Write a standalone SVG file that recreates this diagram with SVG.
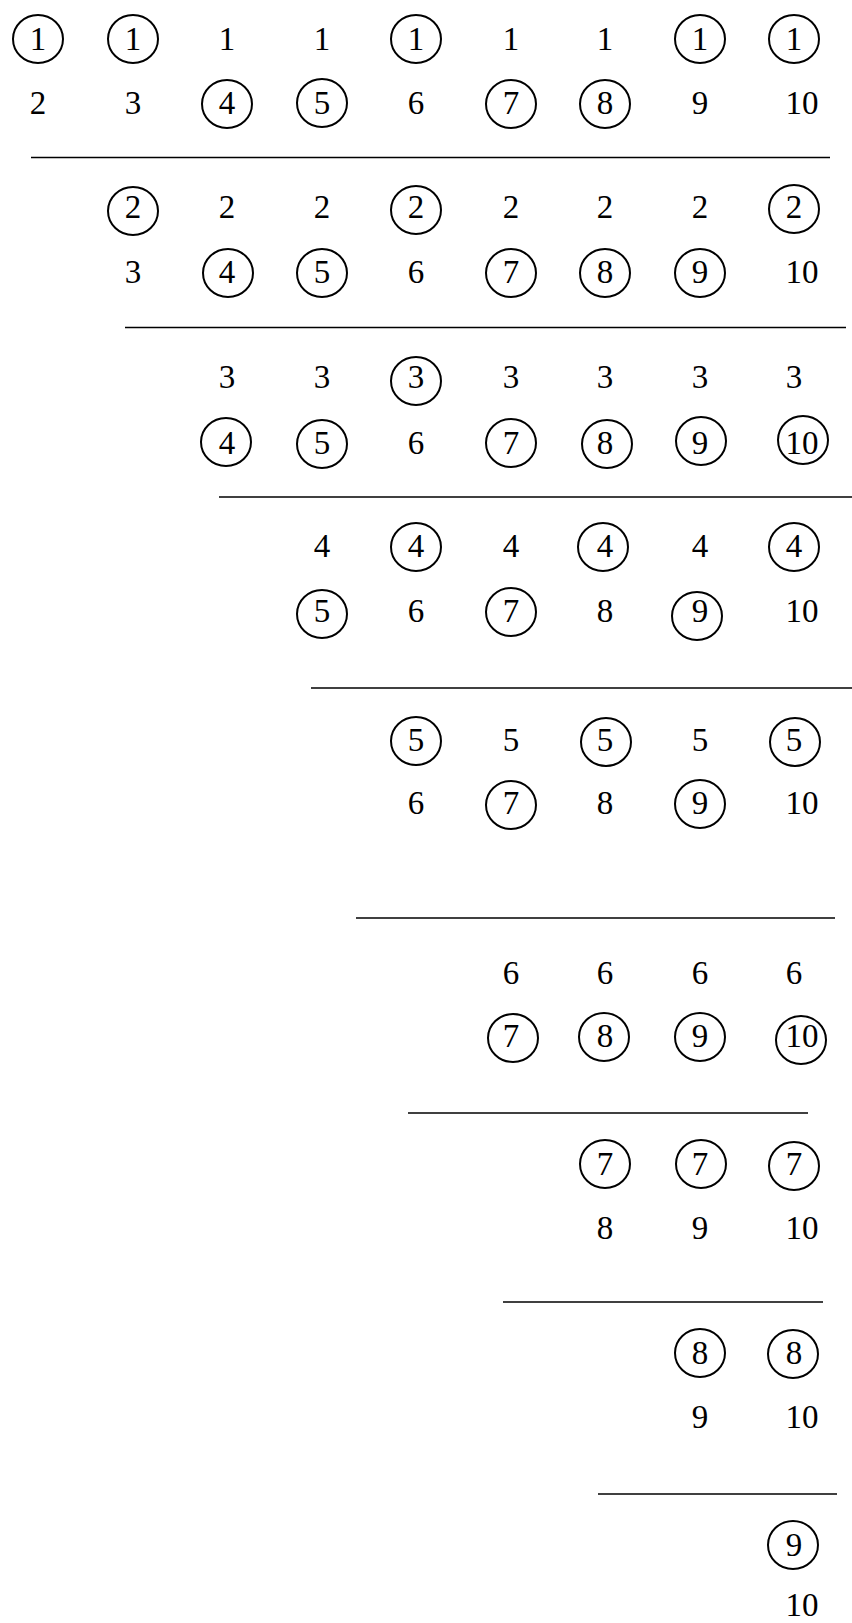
<svg xmlns="http://www.w3.org/2000/svg" width="852" height="1623" viewBox="0 0 852 1623">
<style>
.t{font-family:'Liberation Serif','Times New Roman','DejaVu Serif',serif;font-size:33px;fill:#000;text-anchor:middle}
.c{fill:none;stroke:#000;stroke-width:2}
.r{stroke:#000;stroke-width:1.7}
</style>
<rect width="852" height="1623" fill="#fff"/>
<g id="rules">
<line class="r" x1="31" y1="157.5" x2="830" y2="157.5"/>
<line class="r" x1="125" y1="327.5" x2="846" y2="327.5"/>
<line class="r" x1="219" y1="497" x2="852" y2="497"/>
<line class="r" x1="311" y1="688" x2="852" y2="688"/>
<line class="r" x1="356" y1="918" x2="835" y2="918"/>
<line class="r" x1="408" y1="1113" x2="808" y2="1113"/>
<line class="r" x1="503" y1="1302" x2="823" y2="1302"/>
<line class="r" x1="598" y1="1494" x2="837" y2="1494"/>
</g>
<g font-family="Liberation Serif, Times New Roman, serif">
<!-- Block 1 -->
<g id="b1a1"><ellipse class="c" cx="38" cy="39" rx="25" ry="24"/><text class="t" x="38" y="50">1</text></g>
<g id="b1a2"><ellipse class="c" cx="133" cy="39" rx="25" ry="24"/><text class="t" x="133" y="50">1</text></g>
<g id="b1a3"><text class="t" x="227" y="50">1</text></g>
<g id="b1a4"><text class="t" x="322" y="50">1</text></g>
<g id="b1a5"><ellipse class="c" cx="416" cy="39" rx="25" ry="24"/><text class="t" x="416" y="50">1</text></g>
<g id="b1a6"><text class="t" x="511" y="50">1</text></g>
<g id="b1a7"><text class="t" x="605" y="50">1</text></g>
<g id="b1a8"><ellipse class="c" cx="700" cy="39" rx="25" ry="24"/><text class="t" x="700" y="50">1</text></g>
<g id="b1a9"><ellipse class="c" cx="794" cy="39" rx="25" ry="24"/><text class="t" x="794" y="50">1</text></g>
<g id="b1b1"><text class="t" x="38" y="114">2</text></g>
<g id="b1b2"><text class="t" x="133" y="114">3</text></g>
<g id="b1b3"><ellipse class="c" cx="227" cy="104" rx="25" ry="24"/><text class="t" x="227" y="114">4</text></g>
<g id="b1b4"><ellipse class="c" cx="322" cy="103" rx="25" ry="24"/><text class="t" x="322" y="114">5</text></g>
<g id="b1b5"><text class="t" x="416" y="114">6</text></g>
<g id="b1b6"><ellipse class="c" cx="511" cy="104" rx="25" ry="24"/><text class="t" x="511" y="114">7</text></g>
<g id="b1b7"><ellipse class="c" cx="605" cy="104" rx="25" ry="24"/><text class="t" x="605" y="114">8</text></g>
<g id="b1b8"><text class="t" x="700" y="114">9</text></g>
<g id="b1b9"><text class="t" x="802" y="114">10</text></g>
<!-- Block 2 -->
<g id="b2a2"><ellipse class="c" cx="133" cy="211" rx="25" ry="24"/><text class="t" x="133" y="218">2</text></g>
<g id="b2a3"><text class="t" x="227" y="218">2</text></g>
<g id="b2a4"><text class="t" x="322" y="218">2</text></g>
<g id="b2a5"><ellipse class="c" cx="416" cy="210" rx="25" ry="24"/><text class="t" x="416" y="218">2</text></g>
<g id="b2a6"><text class="t" x="511" y="218">2</text></g>
<g id="b2a7"><text class="t" x="605" y="218">2</text></g>
<g id="b2a8"><text class="t" x="700" y="218">2</text></g>
<g id="b2a9"><ellipse class="c" cx="794" cy="209" rx="25" ry="24"/><text class="t" x="794" y="218">2</text></g>
<g id="b2b2"><text class="t" x="133" y="283">3</text></g>
<g id="b2b3"><ellipse class="c" cx="228" cy="273" rx="25" ry="24"/><text class="t" x="227" y="283">4</text></g>
<g id="b2b4"><ellipse class="c" cx="322" cy="273" rx="25" ry="24"/><text class="t" x="322" y="283">5</text></g>
<g id="b2b5"><text class="t" x="416" y="283">6</text></g>
<g id="b2b6"><ellipse class="c" cx="511" cy="273" rx="25" ry="24"/><text class="t" x="511" y="283">7</text></g>
<g id="b2b7"><ellipse class="c" cx="605" cy="273" rx="25" ry="24"/><text class="t" x="605" y="283">8</text></g>
<g id="b2b8"><ellipse class="c" cx="700" cy="273" rx="25" ry="24"/><text class="t" x="700" y="283">9</text></g>
<g id="b2b9"><text class="t" x="802" y="283">10</text></g>
<!-- Block 3 -->
<g id="b3a3"><text class="t" x="227" y="388">3</text></g>
<g id="b3a4"><text class="t" x="322" y="388">3</text></g>
<g id="b3a5"><ellipse class="c" cx="416" cy="381" rx="25" ry="24"/><text class="t" x="416" y="388">3</text></g>
<g id="b3a6"><text class="t" x="511" y="388">3</text></g>
<g id="b3a7"><text class="t" x="605" y="388">3</text></g>
<g id="b3a8"><text class="t" x="700" y="388">3</text></g>
<g id="b3a9"><text class="t" x="794" y="388">3</text></g>
<g id="b3b3"><ellipse class="c" cx="226" cy="442" rx="25" ry="24"/><text class="t" x="227" y="454">4</text></g>
<g id="b3b4"><ellipse class="c" cx="322" cy="444" rx="25" ry="24"/><text class="t" x="322" y="454">5</text></g>
<g id="b3b5"><text class="t" x="416" y="454">6</text></g>
<g id="b3b6"><ellipse class="c" cx="511" cy="443" rx="25" ry="24"/><text class="t" x="511" y="454">7</text></g>
<g id="b3b7"><ellipse class="c" cx="607" cy="444" rx="25" ry="24"/><text class="t" x="605" y="454">8</text></g>
<g id="b3b8"><ellipse class="c" cx="701" cy="441" rx="25" ry="24"/><text class="t" x="700" y="454">9</text></g>
<g id="b3b9"><ellipse class="c" cx="803" cy="440" rx="25" ry="24"/><text class="t" x="802" y="454">10</text></g>
<!-- Block 4 -->
<g id="b4a4"><text class="t" x="322" y="557">4</text></g>
<g id="b4a5"><ellipse class="c" cx="416" cy="547" rx="25" ry="24"/><text class="t" x="416" y="557">4</text></g>
<g id="b4a6"><text class="t" x="511" y="557">4</text></g>
<g id="b4a7"><ellipse class="c" cx="603" cy="547" rx="25" ry="24"/><text class="t" x="605" y="557">4</text></g>
<g id="b4a8"><text class="t" x="700" y="557">4</text></g>
<g id="b4a9"><ellipse class="c" cx="794" cy="547" rx="25" ry="24"/><text class="t" x="794" y="557">4</text></g>
<g id="b4b4"><ellipse class="c" cx="322" cy="614" rx="25" ry="24"/><text class="t" x="322" y="622">5</text></g>
<g id="b4b5"><text class="t" x="416" y="622">6</text></g>
<g id="b4b6"><ellipse class="c" cx="511" cy="612" rx="25" ry="24"/><text class="t" x="511" y="622">7</text></g>
<g id="b4b7"><text class="t" x="605" y="622">8</text></g>
<g id="b4b8"><ellipse class="c" cx="697" cy="616" rx="25" ry="24"/><text class="t" x="700" y="622">9</text></g>
<g id="b4b9"><text class="t" x="802" y="622">10</text></g>
<!-- Block 5 -->
<g id="b5a5"><ellipse class="c" cx="416" cy="741" rx="25" ry="24"/><text class="t" x="416" y="751">5</text></g>
<g id="b5a6"><text class="t" x="511" y="751">5</text></g>
<g id="b5a7"><ellipse class="c" cx="606" cy="742" rx="25" ry="24"/><text class="t" x="605" y="751">5</text></g>
<g id="b5a8"><text class="t" x="700" y="751">5</text></g>
<g id="b5a9"><ellipse class="c" cx="795" cy="742" rx="25" ry="24"/><text class="t" x="794" y="751">5</text></g>
<g id="b5b5"><text class="t" x="416" y="814">6</text></g>
<g id="b5b6"><ellipse class="c" cx="511" cy="805" rx="25" ry="24"/><text class="t" x="511" y="814">7</text></g>
<g id="b5b7"><text class="t" x="605" y="814">8</text></g>
<g id="b5b8"><ellipse class="c" cx="700" cy="804" rx="25" ry="24"/><text class="t" x="700" y="814">9</text></g>
<g id="b5b9"><text class="t" x="802" y="814">10</text></g>
<!-- Block 6 -->
<g id="b6a6"><text class="t" x="511" y="984">6</text></g>
<g id="b6a7"><text class="t" x="605" y="984">6</text></g>
<g id="b6a8"><text class="t" x="700" y="984">6</text></g>
<g id="b6a9"><text class="t" x="794" y="984">6</text></g>
<g id="b6b6"><ellipse class="c" cx="513" cy="1038" rx="25" ry="24"/><text class="t" x="511" y="1047">7</text></g>
<g id="b6b7"><ellipse class="c" cx="604" cy="1037" rx="25" ry="24"/><text class="t" x="605" y="1047">8</text></g>
<g id="b6b8"><ellipse class="c" cx="700" cy="1037" rx="25" ry="24"/><text class="t" x="700" y="1047">9</text></g>
<g id="b6b9"><ellipse class="c" cx="801" cy="1040" rx="25" ry="24"/><text class="t" x="802" y="1047">10</text></g>
<!-- Block 7 -->
<g id="b7a7"><ellipse class="c" cx="605" cy="1164" rx="25" ry="24"/><text class="t" x="605" y="1175">7</text></g>
<g id="b7a8"><ellipse class="c" cx="701" cy="1164" rx="25" ry="24"/><text class="t" x="700" y="1175">7</text></g>
<g id="b7a9"><ellipse class="c" cx="794" cy="1166" rx="25" ry="24"/><text class="t" x="794" y="1175">7</text></g>
<g id="b7b7"><text class="t" x="605" y="1239">8</text></g>
<g id="b7b8"><text class="t" x="700" y="1239">9</text></g>
<g id="b7b9"><text class="t" x="802" y="1239">10</text></g>
<!-- Block 8 -->
<g id="b8a8"><ellipse class="c" cx="700" cy="1353" rx="25" ry="24"/><text class="t" x="700" y="1364">8</text></g>
<g id="b8a9"><ellipse class="c" cx="793" cy="1354" rx="25" ry="24"/><text class="t" x="794" y="1364">8</text></g>
<g id="b8b8"><text class="t" x="700" y="1428">9</text></g>
<g id="b8b9"><text class="t" x="802" y="1428">10</text></g>
<!-- Block 9 -->
<g id="b9a9"><ellipse class="c" cx="793" cy="1545" rx="25" ry="24"/><text class="t" x="794" y="1556">9</text></g>
<g id="b9b9"><text class="t" x="802" y="1616">10</text></g>
</g>
</svg>
